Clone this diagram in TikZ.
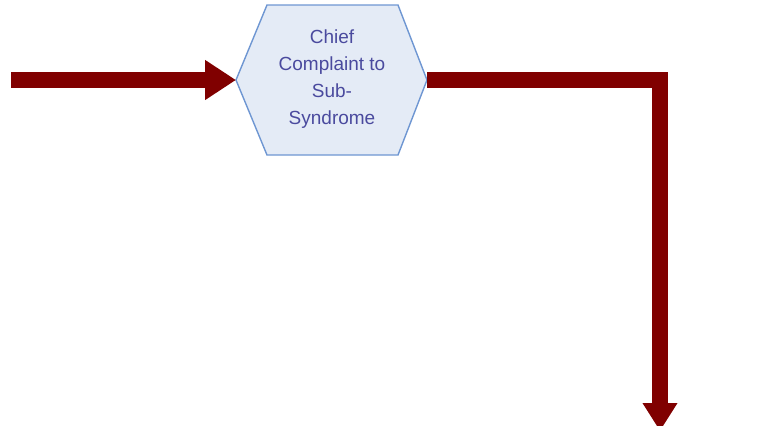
\documentclass[tikz,border=0pt]{standalone}
\usepackage{fontspec}
\setmainfont{Liberation Sans}
\usetikzlibrary{arrows.meta}
\definecolor{maroonline}{HTML}{800000}
\definecolor{hexfill}{HTML}{E4EBF6}
\definecolor{hexborder}{HTML}{6E96D2}
\definecolor{hextext}{HTML}{4A4A9E}
\tikzset{
  flow/.style={draw=maroonline, line width=16pt, line join=miter, line cap=butt,
    -{Triangle[length=31pt,width=38pt]}},
  flowdown/.style={draw=maroonline, line width=16pt, line join=miter, line cap=butt,
    -{Triangle[length=28pt,width=33pt]}},
  hexshape/.style={draw=hexborder, fill=hexfill, line width=1.4pt, line join=miter},
  hexlabel/.style={text=hextext, align=center, font=\fontsize{19}{27}\selectfont, inner sep=0pt}
}
\begin{document}
\begin{tikzpicture}[x=1pt,y=-1pt]
\useasboundingbox (0,0) rectangle (769,426);
\clip (0,0) rectangle (769,426);
% hexagon
\coordinate (hexW) at (236,80);
\coordinate (hexE) at (427,80);
\draw[hexshape] (hexW) -- (267,5) -- (398,5) -- (hexE) -- (398,155) -- (267,155) -- cycle;
\node[hexlabel] (hex) at (332,79) {Chief\\Complaint to\\Sub-\\Syndrome};
% connectors
\coordinate (start) at (11,80);
\coordinate (corner) at (660,80);
\coordinate (finish) at (660,431);
\draw[flow] (start) -- (hexW);
\draw[flowdown] (hexE) -- (corner) -- (finish);
\end{tikzpicture}
\end{document}
